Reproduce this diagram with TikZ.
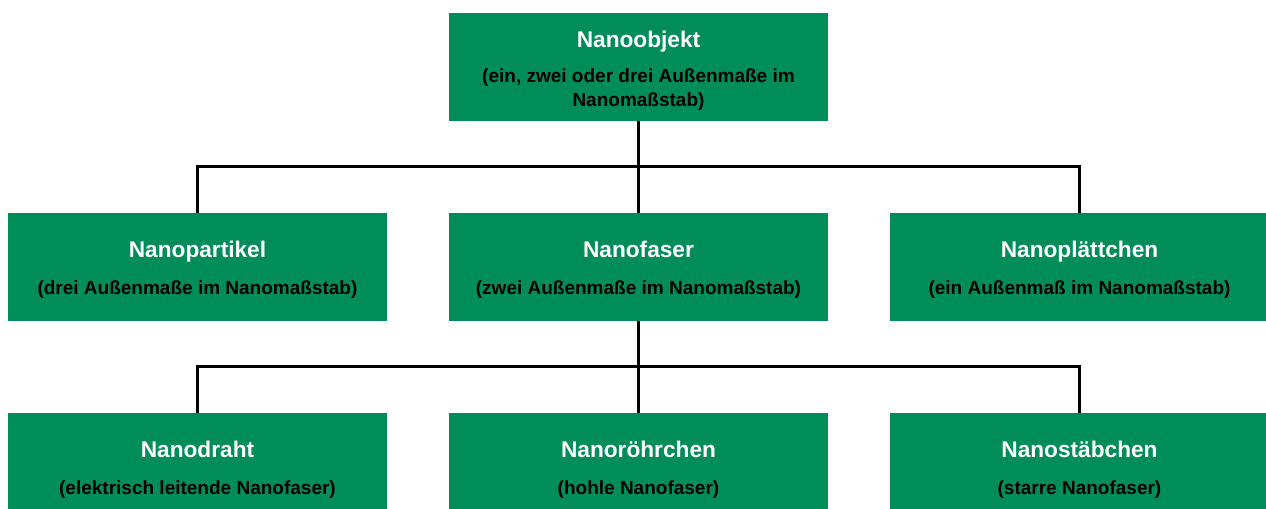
\documentclass[tikz,border=0pt]{standalone}
\usepackage{fontspec}
\setmainfont{Liberation Sans}
\usetikzlibrary{positioning, calc}

\definecolor{nanogreen}{RGB}{0,141,90}

% white heading line, the strut pushes the text a bit lower in the box
\newcommand{\boxtitle}[2][16.9pt]{{\fontsize{17}{20}\selectfont\color{white}\rule{0pt}{#1}#2}}

\begin{document}
\begin{tikzpicture}[
            font = \fontsize{14.25}{18}\selectfont\bfseries, % text style
            node distance = 69pt and 46.5pt, % distance between boxes
            line width = 2.25pt % connector style
        ]

        \tikzstyle{box}=[
            fill = nanogreen,
            text = black,
            align = center,
            inner sep = 0pt,
            outer sep = 0pt,
            minimum width = 284.25pt,
            minimum height = 81pt
        ]

        % page frame, the lowest row is cut off
        \useasboundingbox (-478.875pt,50.25pt) rectangle (470.625pt,-331.5pt);

        \node[box] (objekt) at (0,0) {\boxtitle[18.4pt]{Nanoobjekt}\\[8.5pt] (ein, zwei oder drei Außenmaße im\\ Nanomaßstab)};
        \node[box] (faser) [below=of objekt] {\boxtitle{Nanofaser}\\[10pt] (zwei Außenmaße im Nanomaßstab)};
        \node[box] (partikel) [left=of faser] {\boxtitle{Nanopartikel}\\[10pt] (drei Außenmaße im Nanomaßstab)};
        \node[box] (plaettchen) [right=of faser] {\boxtitle{Nanoplättchen}\\[10pt] (ein Außenmaß im Nanomaßstab)};
        \node[box] (roehrchen) [below=of faser] {\boxtitle{Nanoröhrchen}\\[10pt] (hohle Nanofaser)};
        \node[box] (draht) [left=of roehrchen] {\boxtitle{Nanodraht}\\[10pt] (elektrisch leitende Nanofaser)};
        \node[box] (staebchen) [right=of roehrchen] {\boxtitle{Nanostäbchen}\\[10pt] (starre Nanofaser)};

        \coordinate (gabel1) at ($(objekt.south)!0.5!(faser.north)$);
        \coordinate (gabel2) at ($(faser.south)!0.5!(roehrchen.north)$);

        \draw (objekt) -- (faser);
        \draw (partikel.north) |- (gabel1) -| (plaettchen.north);
        \draw (faser) -- (roehrchen);
        \draw (draht.north) |- (gabel2) -| (staebchen.north);
     \end{tikzpicture}
\end{document}
